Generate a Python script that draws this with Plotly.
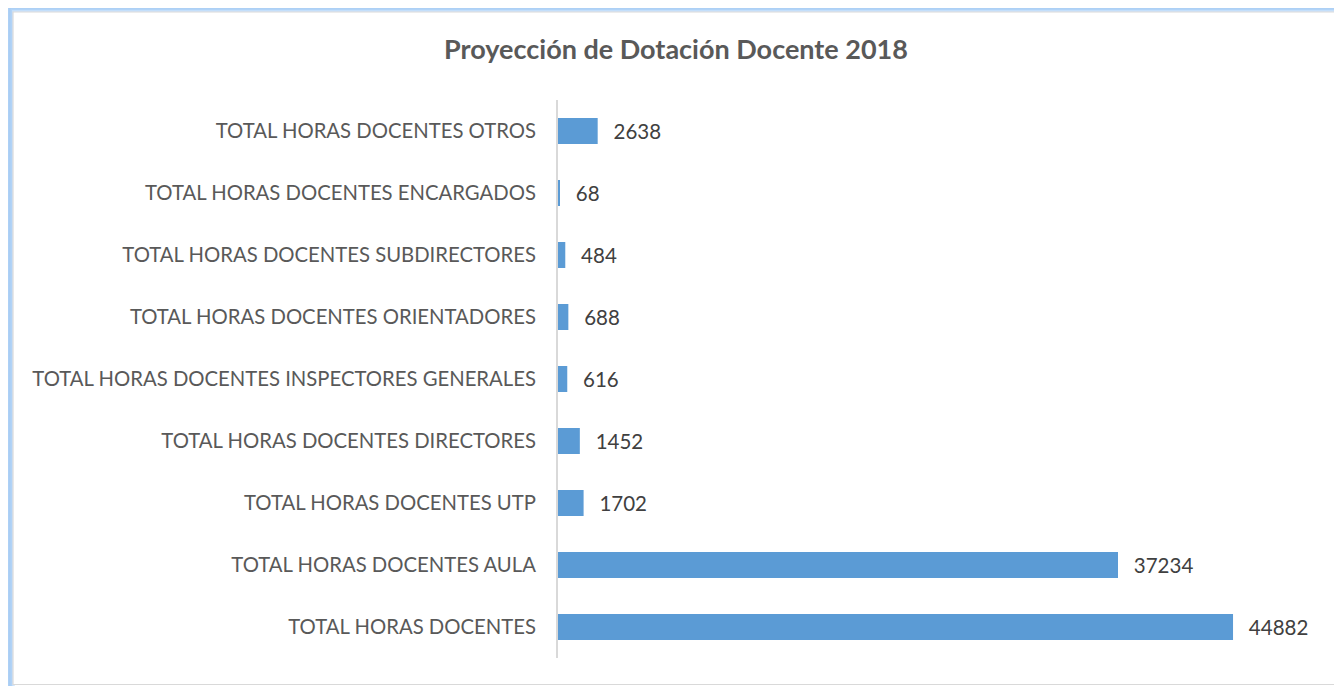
import plotly.graph_objects as go

categories = [
    "TOTAL HORAS DOCENTES",
    "TOTAL HORAS DOCENTES AULA",
    "TOTAL HORAS DOCENTES UTP",
    "TOTAL HORAS DOCENTES DIRECTORES",
    "TOTAL HORAS DOCENTES INSPECTORES GENERALES",
    "TOTAL HORAS DOCENTES ORIENTADORES",
    "TOTAL HORAS DOCENTES SUBDIRECTORES",
    "TOTAL HORAS DOCENTES ENCARGADOS",
    "TOTAL HORAS DOCENTES OTROS",
]
values = [44882, 37234, 1702, 1452, 616, 688, 484, 68, 2638]
title_text = "Proyección de Dotación Docente 2018"

# the page body has an 8px margin, so the figure is offset by 8px
OFF = 8
W, H = 1342 - OFF, 686 - OFF
L, R, T, B = 558 - OFF, W - (1310 - OFF), 100 - OFF, H - (658 - OFF)
pw, ph = W - L - R, H - T - B

def px(x):
    return (x - OFF - L) / pw

def py(y):
    return 1 - (y - OFF - T) / ph

FONT = "Lato, Open Sans, sans-serif"

fig = go.Figure(go.Bar(
    x=values, y=categories, orientation="h",
    marker=dict(color="#5b9bd5", line=dict(width=0)),
    text=["\u2002\u2009" + str(v) for v in values], textposition="outside",
    textfont=dict(family=FONT, size=20.5, color="#404040"),
    cliponaxis=False,
))

shapes = []
# soft blue glow frame (graded strokes)
for w, c in [(11, "rgba(205,228,252,0.7)"), (8, "rgba(190,220,250,0.8)"),
             (5, "rgba(175,210,246,0.9)"), (2, "#a9cdf4")]:
    shapes.append(dict(type="rect", xref="paper", yref="paper",
                       x0=px(9.5), x1=px(1343.5), y0=py(7.5), y1=py(692),
                       line=dict(color=c, width=w), fillcolor="rgba(0,0,0,0)", layer="below"))
shapes.append(dict(type="rect", xref="paper", yref="paper",
                   x0=px(13), x1=px(1338), y0=py(12), y1=py(684.5),
                   line=dict(color="#d9d9d9", width=1.2), fillcolor="white", layer="below"))

fig.update_layout(
    width=W, height=H,
    margin=dict(l=L, r=R, t=T, b=B, pad=0),
    paper_bgcolor="white", plot_bgcolor="rgba(0,0,0,0)",
    title=dict(text="<b>" + title_text + "</b>", xref="container", x=(676 - OFF) / W, xanchor="center",
               yref="container", y=1 - (50 - OFF) / H, yanchor="middle",
               font=dict(family=FONT, size=27, color="#595959")),
    bargap=0.58,
    showlegend=False,
    shapes=shapes,
    xaxis=dict(range=[0, 50000], visible=False, showgrid=False, zeroline=False),
    yaxis=dict(showline=True, linecolor="#d9d9d9", linewidth=2, ticks="",
               ticklabelstandoff=16, showgrid=False, zeroline=False, automargin=False,
               tickfont=dict(family=FONT, size=20.3, color="#595959")),
)

fig.write_html("out.html")
